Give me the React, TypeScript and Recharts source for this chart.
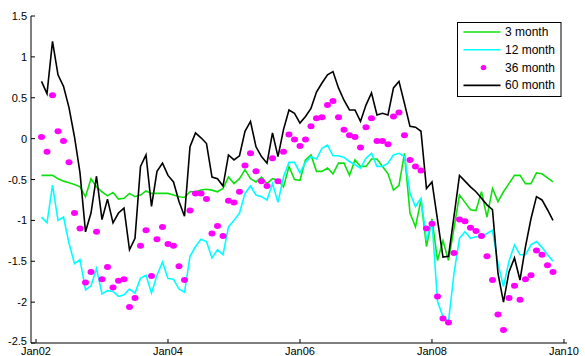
import { LineChart, Line, XAxis, YAxis, Legend } from 'recharts';

// monthly values, Feb 2002 onwards
const threeMonth = [
    -0.45, -0.45, -0.45, -0.49, -0.52, -0.54, -0.56, -0.59, -0.71, -0.49,
    -0.59, -0.65, -0.70, -0.66, -0.74, -0.73, -0.67, -0.71, -0.69, -0.64,
    -0.67, -0.67, -0.67, -0.67, -0.69, -0.71, -0.72, -0.65, -0.65, -0.63,
    -0.62, -0.63, -0.65, -0.61, -0.47, -0.55, -0.49, -0.38, -0.49, -0.53,
    -0.47, -0.55, -0.49, -0.51, -0.59, -0.34, -0.50, -0.51, -0.26, -0.20,
    -0.40, -0.40, -0.36, -0.43, -0.30, -0.30, -0.45, -0.26, -0.34, -0.34,
    -0.25, -0.25, -0.34, -0.43, -0.63, -0.57, -0.18, -0.91, -1.08, -0.75,
    -1.32, -0.98, -1.49, -1.25, -1.49, -1.10, -0.69, -0.78, -0.87, -0.88,
    -0.65, -0.96, -0.61, -0.77, -0.65, -0.55, -0.45, -0.45, -0.55, -0.55,
    -0.42, -0.43, -0.48, -0.53,
];

const twelveMonth = [
    -0.96, -1.03, -0.57, -1.00, -0.96, -1.28, -1.53, -1.48, -1.85, -1.80,
    -1.59, -1.90, -1.86, -1.87, -1.93, -1.91, -1.84, -1.89, -1.71, -1.67,
    -1.89, -1.67, -1.51, -1.71, -1.72, -1.84, -1.88, -1.44, -1.32, -1.23,
    -1.26, -1.46, -1.36, -1.42, -1.08, -1.00, -0.91, -0.67, -0.58, -0.69,
    -0.71, -0.75, -0.55, -0.78, -0.47, -0.29, -0.29, -0.42, -0.29, -0.22,
    -0.25, -0.12, -0.08, -0.21, -0.21, -0.23, -0.28, -0.32, -0.36, -0.24,
    -0.18, -0.34, -0.34, -0.30, -0.20, -0.18, -0.22, -0.67, -0.83, -0.73,
    -1.24, -1.00, -1.99, -2.18, -2.24, -1.65, -1.22, -1.14, -1.22, -1.20,
    -1.20, -1.16, -1.12, -1.53, -1.81, -1.50, -1.30, -1.42, -1.42, -1.30,
    -1.26, -1.33, -1.42, -1.50,
];

const thirtySixMonth = [
    0.02, -0.16, 0.53, 0.09, -0.03, -0.29, -0.91, -1.10, -1.76, -1.63,
    -1.14, -1.72, -1.57, -1.82, -1.74, -1.72, -2.06, -1.95, -1.31, -1.12,
    -1.68, -1.23, -1.08, -1.29, -1.31, -1.56, -1.73, -0.88, -0.67, -0.67,
    -0.74, -1.16, -1.07, -1.19, -0.76, -0.78, -0.65, -0.33, -0.18, -0.40,
    -0.52, -0.58, -0.24, -0.52, -0.16, 0.05, -0.01, -0.09, -0.01, 0.15,
    0.25, 0.26, 0.41, 0.46, 0.26, 0.11, 0.04, 0.02, -0.11, 0.14,
    0.25, -0.03, -0.03, -0.07, 0.27, 0.32, 0.04, -0.26, -0.34, -0.39,
    -1.10, -1.04, -1.93, -2.20, -2.25, -1.40, -0.99, -1.01, -1.09, -1.13,
    -1.19, -1.44, -1.73, -2.15, -2.34, -1.95, -1.80, -1.97, -1.72, -1.67,
    -1.37, -1.42, -1.55, -1.63,
];

const sixtyMonth = [
    0.70, 0.55, 1.19, 0.78, 0.64, 0.38, 0.02, -0.42, -1.14, -0.91,
    -0.46, -0.99, -0.74, -1.03, -0.91, -0.85, -1.36, -1.22, -0.34, -0.20,
    -0.83, -0.40, -0.30, -0.45, -0.53, -0.77, -0.95, -0.10, 0.07, 0.01,
    -0.06, -0.47, -0.49, -0.58, -0.20, -0.26, -0.21, 0.09, 0.21, -0.10,
    -0.22, -0.30, 0.07, -0.22, 0.11, 0.35, 0.31, 0.19, 0.27, 0.37,
    0.57, 0.68, 0.78, 0.82, 0.62, 0.47, 0.35, 0.35, 0.21, 0.41,
    0.56, 0.29, 0.31, 0.29, 0.62, 0.70, 0.43, 0.15, 0.14, 0.09,
    -0.61, -0.53, -0.99, -1.45, -1.44, -0.95, -0.45, -0.52, -0.59, -0.65,
    -0.73, -0.81, -0.87, -1.65, -2.00, -1.63, -1.46, -1.73, -1.32, -0.98,
    -0.71, -0.75, -0.87, -1.00,
];

// months since Jan02
const xTicks = [0, 24, 48, 72, 96];
const xTickLabels = ['Jan02', 'Jan04', 'Jan06', 'Jan08', 'Jan10'];
const yTicks = [-2.5, -2, -1.5, -1, -0.5, 0, 0.5, 1, 1.5];

const legendItems = [
    { label: '3 month', color: '#10e010', kind: 'line' },
    { label: '12 month', color: '#00ffff', kind: 'line' },
    { label: '36 month', color: '#ff00ff', kind: 'dot' },
    { label: '60 month', color: '#000000', kind: 'line' },
];

const rows = threeMonth.map((v, i) => ({
    t: i + 1,
    three: v,
    twelve: twelveMonth[i],
    thirtySix: thirtySixMonth[i],
    sixty: sixtyMonth[i],
}));

const FONT = '"Liberation Sans", Arial, sans-serif';
const PLOT = { left: 31, right: 567, top: 16, bottom: 343 };

const LeftTick = ({ x, y, payload }: any) => (
    <g>
        <line x1={PLOT.left} x2={PLOT.left + 4} y1={y} y2={y} stroke="#000" />
        {/* lowest label nudged up so it clears the first date label */}
        <text x={x - 4} y={payload.value === -2.5 ? y - 2.5 : y} textAnchor="end" dominantBaseline="central" fontSize={11} fontFamily={FONT} fill="#000">
            {String(payload.value)}
        </text>
    </g>
);

const RightTick = ({ y }: any) => (
    <line x1={PLOT.right - 4} x2={PLOT.right} y1={y} y2={y} stroke="#000" />
);

const BottomTick = ({ x, y, payload }: any) => (
    <g>
        <line x1={x} x2={x} y1={PLOT.bottom} y2={PLOT.bottom - 4} stroke="#000" />
        <text x={x} y={y + 4} dy="0.71em" textAnchor="middle" fontSize={11} fontFamily={FONT} fill="#000">
            {xTickLabels[xTicks.indexOf(payload.value)]}
        </text>
    </g>
);

const TopTick = ({ x }: any) => (
    <line x1={x} x2={x} y1={PLOT.top} y2={PLOT.top + 4} stroke="#000" />
);

const MagentaDot = (props: any) => {
    const { cx, cy, index } = props;
    if (cx == null || cy == null) return <g key={index} />;
    return <ellipse key={index} cx={cx} cy={cy} rx={3.5} ry={3} fill="#ff00ff" />;
};

const renderLegend = () => (
    <svg width={105} height={76} style={{ display: 'block' }}>
        <rect x={0.5} y={0.5} width={103.5} height={74} fill="#fff" stroke="#000" />
        {legendItems.map((item, i) => {
            const y = 10 + i * 17.8;
            return (
                <g key={item.label}>
                    {item.kind === 'line' ? (
                        <line x1={6.5} x2={43.5} y1={y} y2={y} stroke={item.color} strokeWidth={1.6} />
                    ) : (
                        <ellipse cx={26.5} cy={y} rx={2.8} ry={2.6} fill={item.color} />
                    )}
                    <text x={48} y={y} dominantBaseline="central" fontSize={12} fontFamily={FONT} fill="#000">
                        {item.label}
                    </text>
                </g>
            );
        })}
    </svg>
);

export default function App() {
    return (
        <div style={{ position: 'absolute', left: 0, top: 0, background: '#fff' }}>
            <LineChart width={585} height={356} data={rows} margin={{ top: 16, right: 18, bottom: 0, left: 0 }}>
                <XAxis
                    dataKey="t"
                    type="number"
                    domain={[-0.91, 96.55]}
                    ticks={xTicks}
                    interval={0}
                    height={13}
                    tickSize={0}
                    tickMargin={0}
                    tick={BottomTick}
                    axisLine={{ stroke: '#000' }}
                    tickLine={false}
                />
                <XAxis
                    xAxisId="top"
                    orientation="top"
                    type="number"
                    domain={[-0.91, 96.55]}
                    ticks={xTicks}
                    interval={0}
                    height={0}
                    tickSize={0}
                    tick={TopTick}
                    axisLine={{ stroke: '#000' }}
                    tickLine={false}
                />
                <YAxis
                    type="number"
                    domain={[-2.5, 1.5]}
                    ticks={yTicks}
                    interval={0}
                    width={31}
                    tickSize={0}
                    tickMargin={0}
                    tick={LeftTick}
                    axisLine={{ stroke: '#000' }}
                    tickLine={false}
                />
                <YAxis
                    yAxisId="right"
                    orientation="right"
                    type="number"
                    domain={[-2.5, 1.5]}
                    ticks={yTicks}
                    interval={0}
                    width={0}
                    tickSize={0}
                    tick={RightTick}
                    axisLine={{ stroke: '#000' }}
                    tickLine={false}
                />
                <Line dataKey="three" stroke="#10e010" strokeWidth={1.6} dot={false} activeDot={false} isAnimationActive={false} />
                <Line dataKey="twelve" stroke="#00ffff" strokeWidth={1.6} dot={false} activeDot={false} isAnimationActive={false} />
                <Line dataKey="thirtySix" stroke="none" dot={MagentaDot} activeDot={false} isAnimationActive={false} />
                <Line dataKey="sixty" stroke="#000000" strokeWidth={1.6} dot={false} activeDot={false} isAnimationActive={false} />
                <Legend
                    layout="vertical"
                    align="center"
                    verticalAlign="middle"
                    content={renderLegend}
                    wrapperStyle={{ position: 'absolute', left: 457, top: 22, width: 105, height: 76 }}
                />
            </LineChart>
        </div>
    );
}
